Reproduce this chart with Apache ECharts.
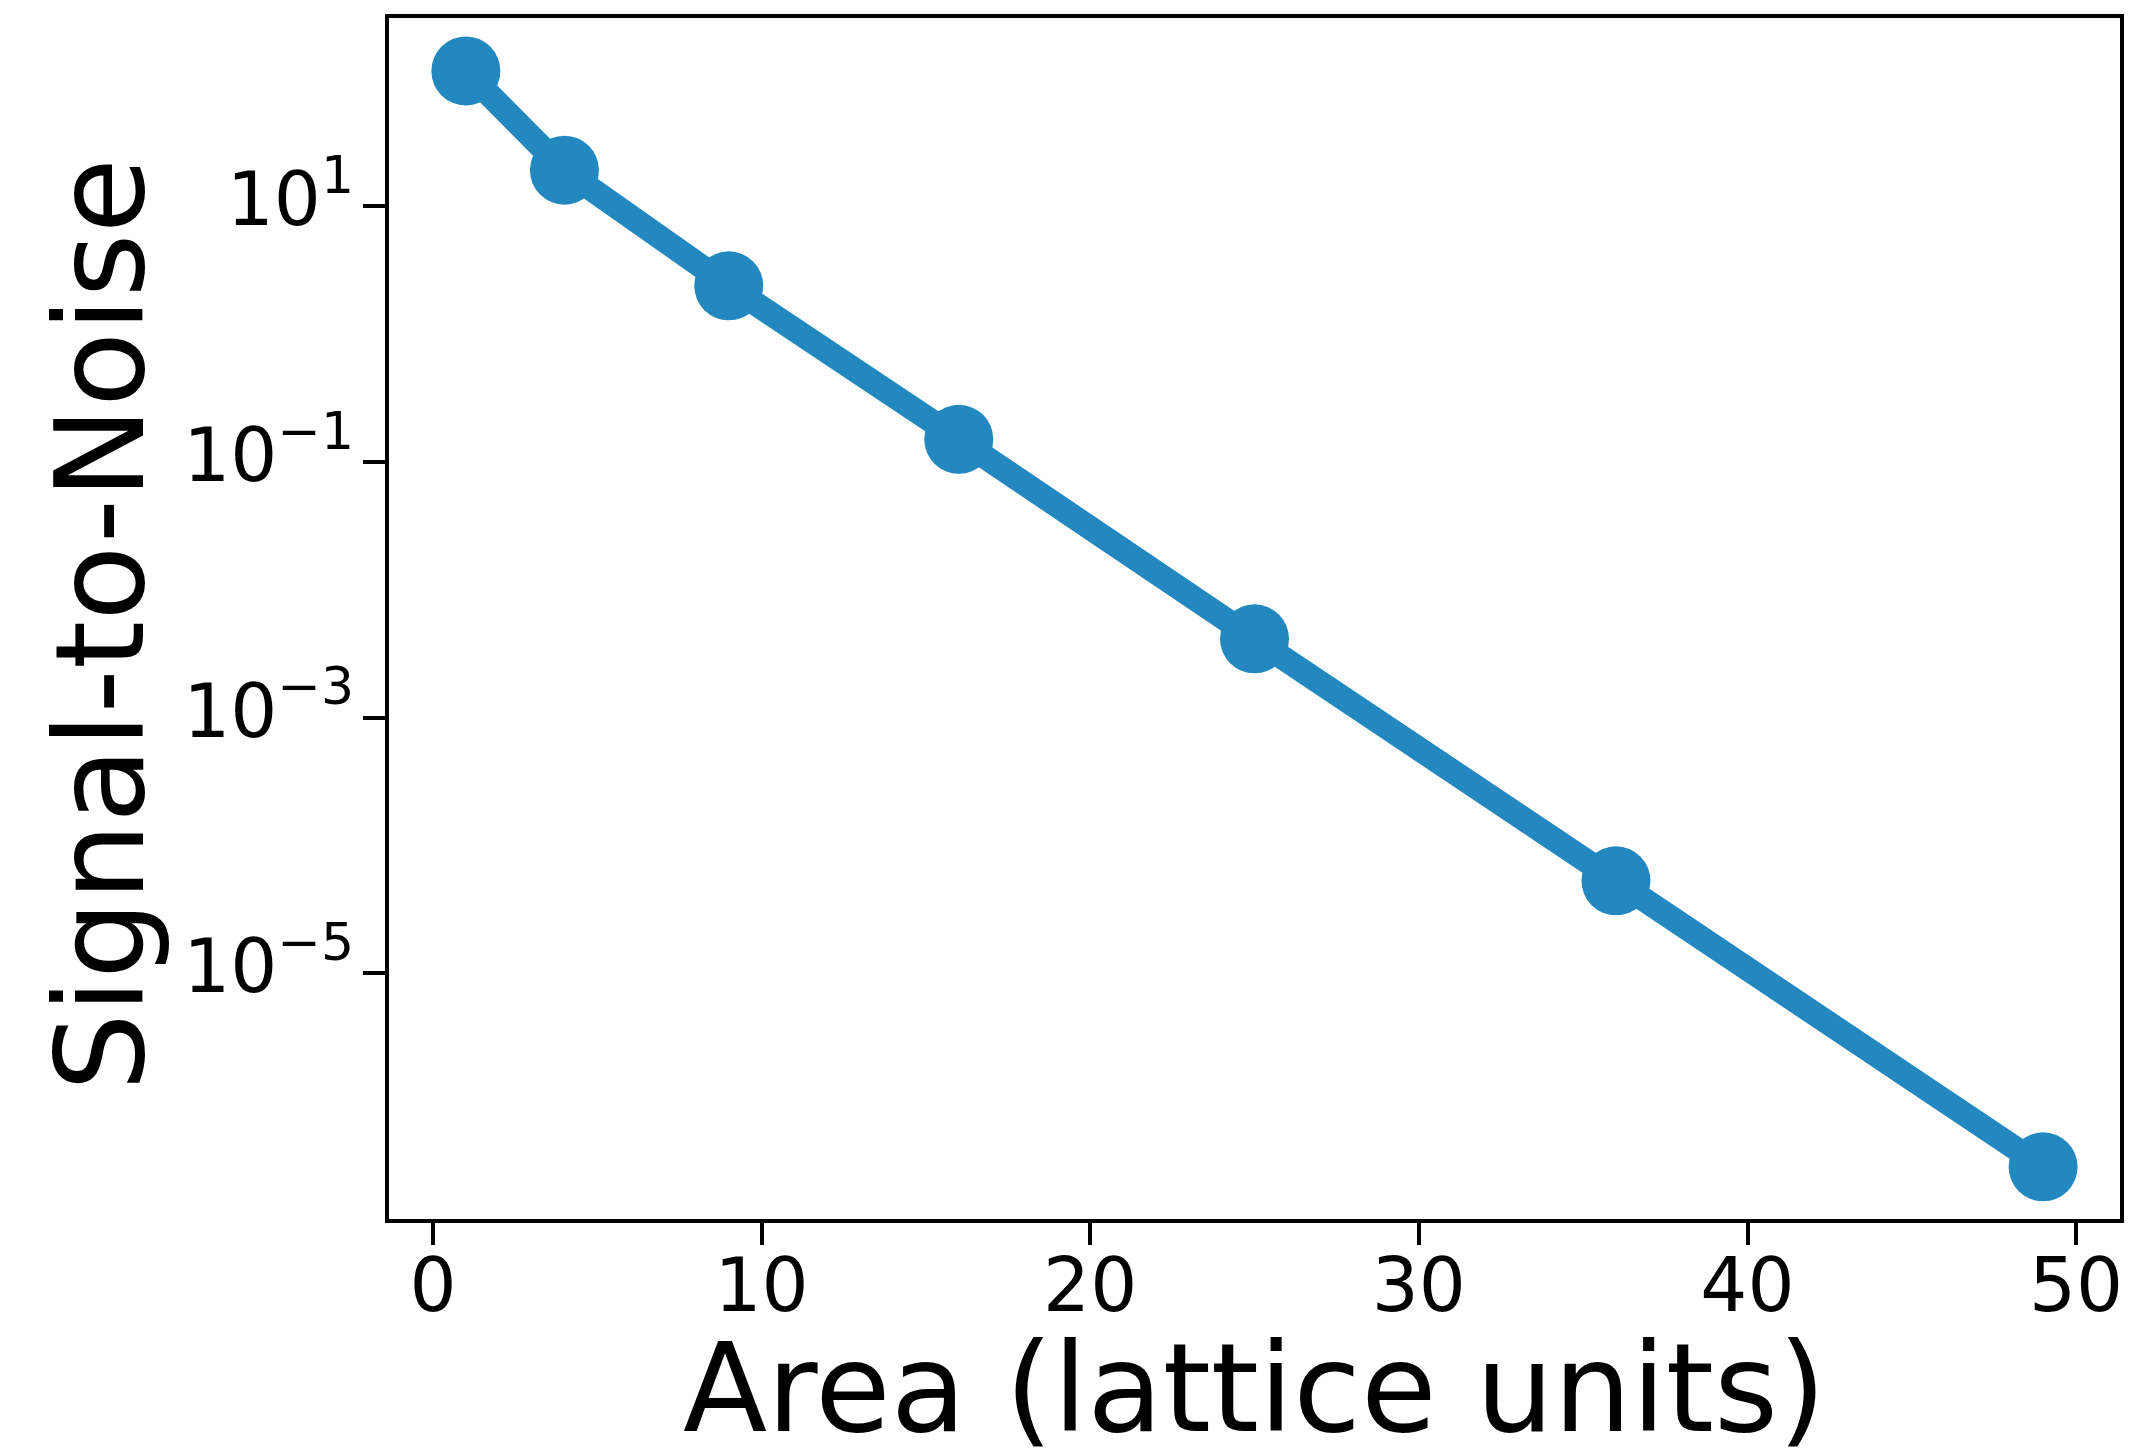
<!DOCTYPE html>
<html>
<head>
<meta charset="utf-8">
<script src="https://cdn.jsdelivr.net/npm/echarts@6/dist/echarts.min.js"></script>
<style>
  html, body { margin: 0; padding: 0; background: #ffffff; }
  #chart { width: 2131px; height: 1450px; }
</style>
</head>
<body>
<div id="chart"></div>
<script>
// Signal-to-noise ratio versus Wilson-loop area
const areas = [1, 4, 9, 16, 25, 36, 49];
const snr = [114, 19.1, 2.38, 0.150, 0.00412, 5.27e-5, 3.05e-7];

// Axis ticks and limits
const xTicks = [0, 10, 20, 30, 40, 50];
const yTicks = [1e1, 1e-1, 1e-3, 1e-5];
const xRange = [-1.4, 51.4];
const yRange = [1.15e-7, 307];

const LINE_COLOR = '#2388c0';
const FONT = 'DejaVu Sans';

// "10^n" tick text with a raised exponent
function powerLabel(value) {
  const e = Math.round(Math.log10(value));
  const s = e < 0 ? '\u2212' + Math.abs(e) : String(e);
  return '{base|10}{sup|' + s + '}';
}

const chart = echarts.init(document.getElementById('chart'), null, { renderer: 'canvas' });

chart.setOption({
  animation: false,
  backgroundColor: '#ffffff',
  grid: {
    left: 387, right: 9, top: 16, bottom: 229,
    outerBoundsMode: 'none',
    containLabel: false,
    show: true, borderColor: '#000', borderWidth: 4, backgroundColor: 'transparent'
  },
  xAxis: {
    type: 'value',
    min: xRange[0],
    max: xRange[1],
    name: 'Area (lattice units)',
    nameLocation: 'middle',
    nameGap: 117,
    nameTextStyle: { fontFamily: FONT, fontSize: 123, lineHeight: 123, color: '#000' },
    axisLine: { show: true, onZero: false, lineStyle: { color: '#000', width: 4 } },
    axisTick: { show: true, length: 24, lineStyle: { color: '#000', width: 4 }, customValues: xTicks },
    axisLabel: {
      show: true, margin: 34, customValues: xTicks,
      fontFamily: FONT, fontSize: 74, lineHeight: 74, color: '#000'
    },
    splitLine: { show: false }
  },
  yAxis: {
    type: 'log',
    logBase: 10,
    min: yRange[0],
    max: yRange[1],
    name: 'Signal-to-Noise',
    nameLocation: 'middle',
    nameGap: 213,
    nameTextStyle: { fontFamily: FONT, fontSize: 123, lineHeight: 123, color: '#000', padding: [0, 12, 0, 0] },
    axisLine: { show: true, onZero: false, lineStyle: { color: '#000', width: 4 } },
    axisTick: { show: true, length: 24, lineStyle: { color: '#000', width: 4 }, customValues: yTicks },
    minorTick: { show: false },
    axisLabel: {
      show: true, margin: 33, customValues: yTicks,
      formatter: powerLabel,
      rich: {
        base: { fontFamily: FONT, fontSize: 74, lineHeight: 74, color: '#000' },
        sup: { fontFamily: FONT, fontSize: 52, lineHeight: 52, padding: [0, 0, 53, 0], color: '#000' }
      }
    },
    splitLine: { show: false }
  },
  series: [{
    type: 'line',
    data: areas.map((a, i) => [a, snr[i]]),
    symbol: 'circle',
    symbolSize: 69,
    itemStyle: { color: LINE_COLOR, borderWidth: 0 },
    lineStyle: { color: LINE_COLOR, width: 24 },
    z: 3
  }]
});
</script>
</body>
</html>
